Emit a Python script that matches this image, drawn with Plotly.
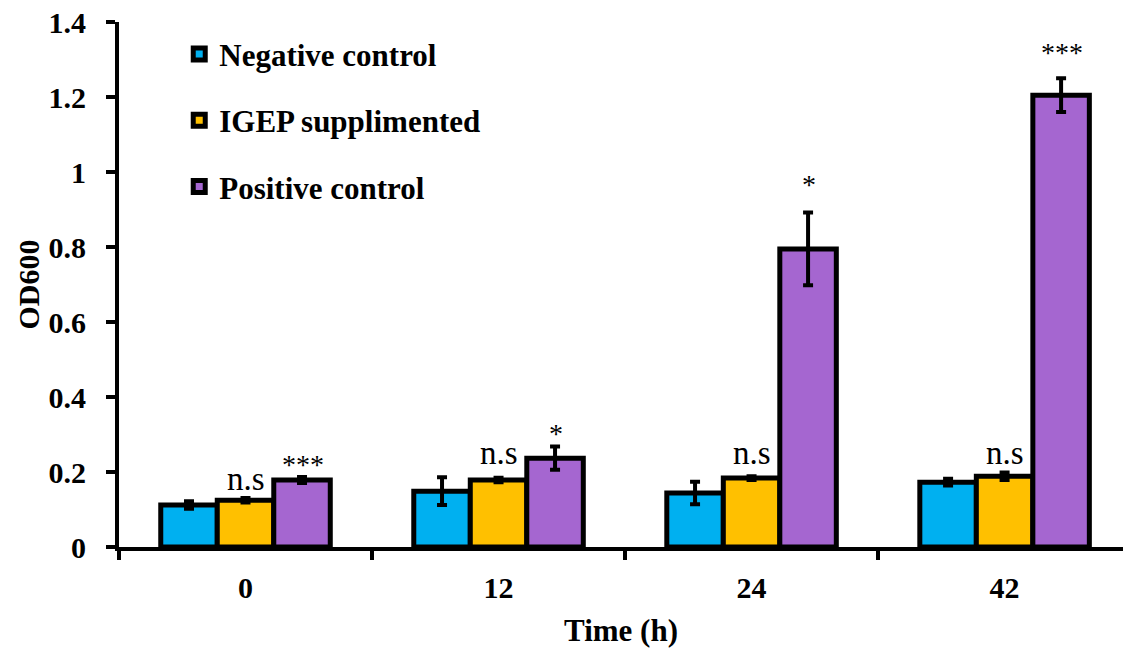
import plotly.graph_objects as go

# Sampling times (h) and mean OD600 per condition with error
times = ["0", "12", "24", "42"]
negative = [0.112, 0.149, 0.144, 0.173]
negative_err = [0.010, 0.037, 0.030, 0.009]
igep = [0.125, 0.179, 0.184, 0.189]
igep_err = [0.006, 0.006, 0.005, 0.010]
positive = [0.179, 0.237, 0.795, 1.205]
positive_err = [0.008, 0.031, 0.097, 0.045]

# Significance marks above the IGEP and positive-control bars
igep_marks = ["n.s", "n.s", "n.s", "n.s"]
positive_marks = ["***", "*", "*", "***"]

SERIF = "Liberation Serif, Times New Roman, serif"

# Pixel lift of each significance label above its error-bar top
ns_lift = [-1, 5, 3, -1]
star_lift = [-5, -4, 11, 8]

# Time points sit at integer slots on the x axis
slots = list(range(len(times)))
bounds = [s - 0.5 for s in slots] + [slots[-1] + 0.5]

series = [
    ("Negative control", negative, negative_err, "#00B0F0"),
    ("IGEP supplimented", igep, igep_err, "#FFC000"),
    ("Positive control", positive, positive_err, "#A566D0"),
]

fig = go.Figure()
for i, (name, vals, errs, color) in enumerate(series):
    fig.add_trace(go.Bar(
        name=name, x=slots, y=vals,
        marker=dict(color=color, line=dict(color="black", width=5)),
        error_y=dict(type="data", array=errs, visible=True,
                     color="black", thickness=4, width=5),
        legendgroup=f"g{i}",
    ))

annotations = []
for s, v, e, m, lift in zip(slots, igep, igep_err, igep_marks, ns_lift):
    annotations.append(dict(
        x=s, y=v + e, xref="x", yref="y", text=m, showarrow=False,
        yanchor="bottom", yshift=lift, xshift=0,
        font=dict(family=SERIF, size=33, color="black"),
    ))
for s, v, e, m, lift in zip(slots, positive, positive_err, positive_marks,
                            star_lift):
    annotations.append(dict(
        x=s, y=v + e, xref="x", yref="y", text=m, showarrow=False,
        yanchor="bottom", yshift=lift, xshift=57,
        font=dict(family=SERIF, size=28, color="black"),
    ))

fig.update_layout(
    width=1123, height=648,
    margin=dict(l=119, r=0, t=22, b=101),
    paper_bgcolor="white", plot_bgcolor="white",
    barmode="group", bargap=0.33, bargroupgap=0,
    font=dict(family=SERIF, color="black"),
    showlegend=True,
    legend=dict(
        x=0.06, y=0.99, xanchor="left", yanchor="top",
        traceorder="grouped", tracegroupgap=23,
        font=dict(family=SERIF, size=31, color="black", weight="bold"),
        bgcolor="rgba(0,0,0,0)", itemwidth=30,
    ),
    annotations=annotations,
    xaxis=dict(
        range=[-0.5, 3.468],
        tickmode="array", tickvals=slots, ticktext=times,
        ticks="", ticklen=0, ticklabelstandoff=11,
        minor=dict(tickmode="array", tickvals=bounds, ticks="outside",
                   ticklen=9, tickwidth=4, tickcolor="black",
                   showgrid=False),
        showline=True, linecolor="black", linewidth=4,
        tickfont=dict(family=SERIF, size=30, color="black", weight="bold"),
        title=dict(text="Time (h)", standoff=23,
                   font=dict(family=SERIF, size=31, color="black",
                             weight="bold")),
        showgrid=False, zeroline=False,
    ),
    yaxis=dict(
        range=[0, 1.4], dtick=0.2,
        showline=True, linecolor="black", linewidth=4,
        ticks="outside", ticklen=9, tickwidth=4, tickcolor="black",
        ticklabelstandoff=14,
        tickfont=dict(family=SERIF, size=30, color="black", weight="bold"),
        title=dict(text="OD600", standoff=1,
                   font=dict(family=SERIF, size=30, color="black",
                             weight="bold")),
        showgrid=False, zeroline=False,
        tickformat="~g",
    ),
)

fig.write_html("out.html")
